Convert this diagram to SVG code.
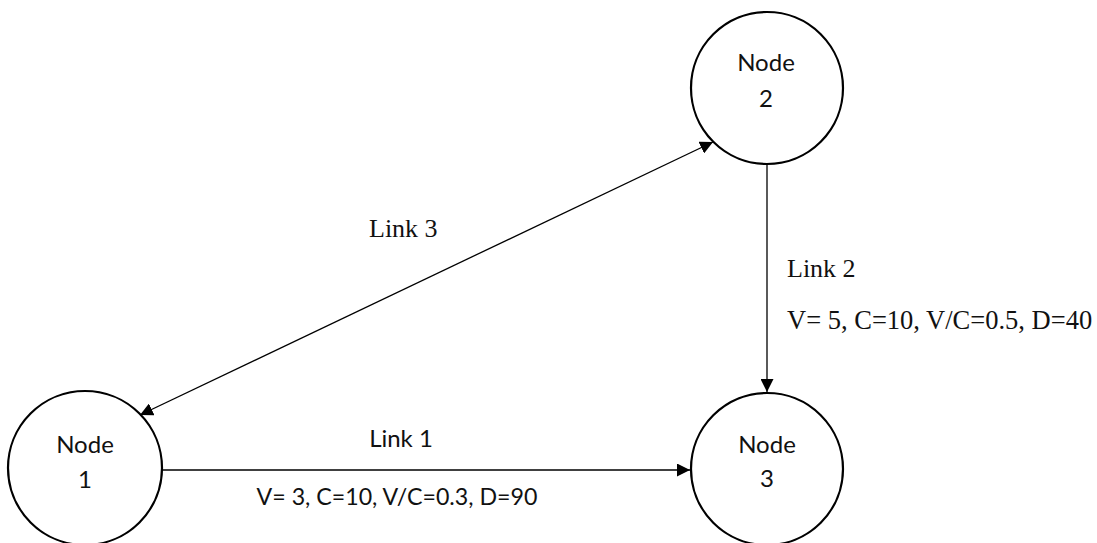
<svg xmlns="http://www.w3.org/2000/svg" width="1097" height="543" viewBox="0 0 1097 543">
<style>
.node circle{fill:#fff;stroke:#000;stroke-width:2.2}
.ntxt{font-family:Lato,"Open Sans",sans-serif;font-size:24px;fill:#111;text-anchor:middle}
.edge{stroke:#000;stroke-width:1.3;fill:none}
.stxt{font-family:Lato,"Open Sans",sans-serif;font-size:24px;fill:#111;text-anchor:middle}
.serif{font-family:"Liberation Serif","Times New Roman",serif;font-size:26px;fill:#111}
</style>
<defs>
<marker id="arr" viewBox="0 0 13 13" refX="13" refY="6.5" markerWidth="13" markerHeight="13" markerUnits="userSpaceOnUse" orient="auto-start-reverse">
<path d="M0,0 L13,6.5 L0,13 z" fill="#000"/>
</marker>
</defs>
<rect width="1097" height="543" fill="#fff"/>
<g id="connectors">
<line class="edge" x1="162" y1="470" x2="690" y2="470" marker-end="url(#arr)"/>
<line class="edge" x1="767" y1="164" x2="767" y2="392" marker-end="url(#arr)"/>
<line class="edge" x1="140" y1="415" x2="713" y2="142" marker-start="url(#arr)" marker-end="url(#arr)"/>
<text class="stxt" x="401" y="447">Link 1</text>
<text class="stxt" x="397" y="505" style="font-size:23.2px">V= 3, C=10, V/C=0.3, D=90</text>
<text class="serif" x="787" y="277">Link 2</text>
<text class="serif" x="787" y="329" style="font-size:26.5px">V= 5, C=10, V/C=0.5, D=40</text>
<text class="serif" x="369" y="237">Link 3</text>
</g>
<g id="node1" class="node">
<circle cx="85" cy="468" r="77"/>
<text class="ntxt" x="85" y="453">Node</text>
<text class="ntxt" x="85" y="488">1</text>
</g>
<g id="node2" class="node">
<circle cx="767" cy="88" r="76"/>
<text class="ntxt" x="766" y="71">Node</text>
<text class="ntxt" x="766" y="107">2</text>
</g>
<g id="node3" class="node">
<circle cx="767" cy="469" r="76"/>
<text class="ntxt" x="767" y="453">Node</text>
<text class="ntxt" x="767" y="487">3</text>
</g>
</svg>
